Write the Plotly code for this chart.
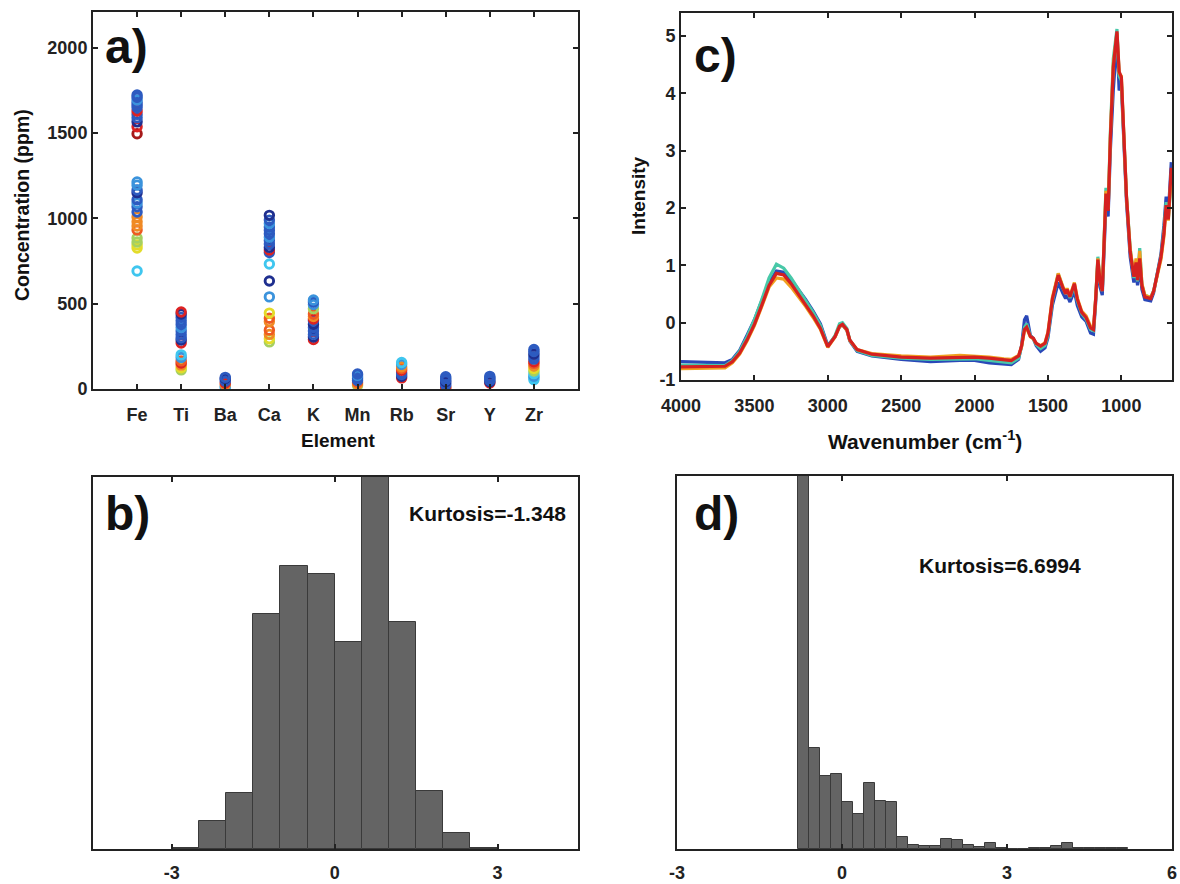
import plotly.graph_objects as go

# ---------------- data ----------------
elements = ["Fe", "Ti", "Ba", "Ca", "K", "Mn", "Rb", "Sr", "Y", "Zr"]

PAL = {"db": "#1f2f8f", "b": "#2d5bc0", "lb": "#3b93dc", "cy": "#3fc6ef", "gr": "#a6d060",
       "ye": "#e3dc2a", "or": "#f08a24", "ro": "#ee5a22", "rd": "#dd2222", "dr": "#a51a1a"}

Fe_vals = [692, 826, 845, 862, 885, 932, 955, 980, 1009, 1038, 1068, 1090, 1109, 1150, 1167, 1195, 1214,
           1496, 1537, 1566, 1590, 1610, 1630, 1650, 1665, 1680, 1695, 1710, 1724]
Fe_cols = ["cy", "ye", "ye", "gr", "gr", "ro", "or", "or", "or", "b", "b", "lb", "b", "db", "b", "lb", "lb",
           "dr", "rd", "db", "b", "b", "rd", "b", "b", "b", "lb", "b", "b"]
Ti_vals = [112, 125, 140, 152, 165, 185, 200, 270, 287, 300, 320, 340, 360, 380, 400, 420, 440, 451]
Ti_cols = ["gr", "ye", "or", "rd", "ro", "lb", "cy", "rd", "db", "b", "b", "b", "lb", "b", "b", "b", "db", "rd"]
Ba_vals = [8, 15, 25, 35, 45, 55, 62, 68]
Ba_cols = ["cy", "lb", "or", "rd", "b", "b", "db", "b"]
Ca_vals = [276, 295, 320, 345, 395, 415, 445, 540, 633, 733, 800, 815, 830, 850, 870, 890, 910, 930,
           950, 970, 990, 1018]
Ca_cols = ["gr", "ye", "or", "ro", "or", "ro", "ye", "lb", "db", "cy", "b", "rd", "db", "b", "b", "lb", "b", "b",
           "b", "lb", "b", "db"]
K_vals = [290, 305, 320, 340, 360, 380, 400, 410, 425, 440, 470, 495, 510, 522]
K_cols = ["rd", "db", "b", "b", "b", "db", "b", "rd", "or", "ro", "gr", "lb", "b", "lb"]
Mn_vals = [20, 30, 40, 50, 60, 70, 80, 88]
Mn_cols = ["gr", "or", "ro", "b", "b", "b", "lb", "b"]
Rb_vals = [65, 75, 85, 95, 110, 120, 130, 145, 155]
Rb_cols = ["rd", "db", "b", "b", "rd", "ro", "or", "lb", "cy"]
Sr_vals = [5, 12, 22, 32, 42, 52, 62, 72]
Sr_cols = ["or", "rd", "b", "b", "db", "b", "b", "b"]
Y_vals = [35, 42, 50, 58, 66, 74]
Y_cols = ["rd", "db", "b", "b", "b", "b"]
Zr_vals = [55, 65, 75, 90, 105, 120, 135, 150, 160, 175, 190, 205, 220, 232]
Zr_cols = ["cy", "cy", "lb", "cy", "gr", "ye", "or", "ro", "rd", "b", "b", "db", "b", "b"]

conc_vals = [Fe_vals, Ti_vals, Ba_vals, Ca_vals, K_vals, Mn_vals, Rb_vals, Sr_vals, Y_vals, Zr_vals]
conc_cols = [Fe_cols, Ti_cols, Ba_cols, Ca_cols, K_cols, Mn_cols, Rb_cols, Sr_cols, Y_cols, Zr_cols]

wavenumber = [4000, 3800, 3700, 3650, 3600, 3550, 3500, 3450, 3400, 3350, 3300, 3250, 3200, 3150, 3100,
              3050, 3000, 2950, 2920, 2900, 2870, 2850, 2800, 2700, 2500, 2300, 2100, 2000, 1900, 1800,
              1750, 1700, 1680, 1660, 1645, 1620, 1600, 1580, 1550, 1520, 1500, 1470, 1430, 1400, 1380,
              1370, 1350, 1320, 1300, 1270, 1240, 1210, 1190, 1175, 1160, 1145, 1130, 1105, 1090, 1075,
              1055, 1030, 1015, 1000, 985, 965, 940, 915, 900, 890, 875, 860, 840, 800, 780, 750, 730,
              710, 695, 680, 660]
spec_blue = [-0.68, -0.69, -0.70, -0.64, -0.48, -0.22, 0.05, 0.38, 0.70, 0.90, 0.88, 0.75, 0.58, 0.40, 0.20,
             -0.02, -0.40, -0.24, -0.07, -0.04, -0.13, -0.32, -0.50, -0.58, -0.64, -0.68, -0.66, -0.66, -0.70, -0.72,
             -0.73, -0.64, -0.40, 0.05, 0.12, -0.22, -0.28, -0.40, -0.50, -0.44, -0.26, 0.30, 0.70, 0.52, 0.42,
             0.48, 0.36, 0.55, 0.30, 0.10, 0.02, -0.18, -0.20, 0.35, 1.05, 0.62, 0.48, 2.05, 1.85, 3.0,
             4.05, 4.95, 4.05, 4.15, 3.30, 2.10, 1.15, 0.70, 0.92, 0.65, 1.02, 0.58, 0.40, 0.38, 0.52, 0.95, 1.20,
             1.70, 2.20, 1.90, 2.80]
spec_green = [-0.74, -0.75, -0.75, -0.66, -0.50, -0.25, 0.05, 0.40, 0.78, 1.02, 0.95, 0.78, 0.58, 0.38, 0.18,
              -0.05, -0.42, -0.22, -0.02, 0.0, -0.10, -0.30, -0.49, -0.57, -0.62, -0.64, -0.63, -0.63, -0.66, -0.69,
              -0.70, -0.62, -0.42, -0.08, -0.02, -0.23, -0.28, -0.38, -0.45, -0.40, -0.22, 0.38, 0.85, 0.62, 0.50,
              0.56, 0.43, 0.64, 0.38, 0.16, 0.06, -0.12, -0.14, 0.42, 1.15, 0.70, 0.55, 2.35, 2.0, 3.3,
              4.6, 5.12, 4.3, 4.22, 3.35, 2.2, 1.3, 0.78, 1.0, 0.72, 1.30, 0.66, 0.48, 0.44, 0.56, 0.92, 1.15,
              1.60, 2.1, 1.82, 2.5]
spec_orange = [-0.80, -0.80, -0.79, -0.70, -0.55, -0.32, -0.05, 0.28, 0.62, 0.78, 0.76, 0.62, 0.46, 0.28, 0.09,
               -0.12, -0.43, -0.25, -0.07, -0.04, -0.13, -0.31, -0.47, -0.54, -0.58, -0.60, -0.57, -0.58, -0.60, -0.63,
               -0.64, -0.57, -0.42, -0.14, -0.10, -0.25, -0.28, -0.36, -0.40, -0.35, -0.16, 0.44, 0.86, 0.64, 0.52,
               0.60, 0.47, 0.70, 0.43, 0.20, 0.12, -0.06, -0.10, 0.43, 1.12, 0.74, 0.57, 2.30, 1.98, 3.25,
               4.5, 5.05, 4.35, 4.3, 3.4, 2.2, 1.28, 0.84, 1.12, 0.78, 1.25, 0.68, 0.48, 0.44, 0.55, 0.88, 1.10,
               1.50, 2.0, 1.78, 2.6]
spec_red = [-0.77, -0.77, -0.76, -0.68, -0.53, -0.30, -0.03, 0.30, 0.65, 0.86, 0.83, 0.68, 0.50, 0.32, 0.12,
            -0.10, -0.42, -0.24, -0.06, -0.03, -0.12, -0.30, -0.47, -0.55, -0.60, -0.62, -0.60, -0.60, -0.62, -0.65,
            -0.66, -0.58, -0.41, -0.12, -0.08, -0.24, -0.27, -0.36, -0.41, -0.36, -0.18, 0.41, 0.83, 0.62, 0.50,
            0.58, 0.45, 0.68, 0.41, 0.18, 0.09, -0.09, -0.12, 0.41, 1.10, 0.72, 0.55, 2.25, 1.95, 3.2,
            4.45, 5.08, 4.38, 4.28, 3.37, 2.19, 1.24, 0.80, 1.05, 0.74, 1.12, 0.65, 0.45, 0.42, 0.55, 0.90, 1.15,
            1.55, 2.05, 1.80, 2.70]
spectra = [(spec_blue, "#2a48b8"), (spec_green, "#48c8a8"), (spec_orange, "#f0a020"), (spec_red, "#d42020")]

b_bin_left = [-3.0, -2.5, -2.0, -1.5, -1.0, -0.5, 0.0, 0.5, 1.0, 1.5, 2.0, 2.5]
b_counts = [0.4, 7.4, 15.0, 63.1, 76.0, 73.8, 55.7, 120.0, 60.9, 15.7, 4.3, 0.4]
b_width = 0.5

d_bin_left = [-0.8, -0.6, -0.4, -0.2, 0.0, 0.2, 0.4, 0.6, 0.8, 1.0, 1.2, 1.4, 1.6, 1.8, 2.0, 2.2, 2.4, 2.6,
              2.8, 3.0, 3.2, 3.4, 3.6, 3.8, 4.0, 4.2, 4.4, 4.6, 4.8, 5.0]
d_counts = [120.0, 27.0, 19.6, 20.2, 12.6, 9.5, 17.8, 12.9, 12.5, 3.3, 1.2, 0.7, 0.7, 2.8, 2.4, 1.0, 0.5, 1.5,
            0.2, 0.1, 0.1, 0.2, 0.4, 0.9, 1.6, 0.4, 0.2, 0.2, 0.4, 0.2]
d_width = 0.2

conc_ticks = [0, 500, 1000, 1500, 2000]
wn_ticks = [4000, 3500, 3000, 2500, 2000, 1500, 1000]
int_ticks = [-1, 0, 1, 2, 3, 4, 5]
b_ticks = [-3, 0, 3]
d_ticks = [-3, 0, 3, 6]

# ---------------- figure ----------------
W, H = 1180, 884
FONT = "Liberation Sans, Arial, sans-serif"
fig = go.Figure()

for name, vals, cols in zip(elements, conc_vals, conc_cols):
    fig.add_trace(go.Scatter(
        x=[name] * len(vals), y=vals, mode="markers", xaxis="x", yaxis="y",
        marker=dict(symbol="circle-open", size=8.5, color=[PAL[c] for c in cols], line=dict(width=2.9)),
        showlegend=False, hoverinfo="skip"))

for vals, col in spectra:
    fig.add_trace(go.Scatter(x=wavenumber, y=vals, mode="lines", xaxis="x2", yaxis="y2",
                             line=dict(color=col, width=3.2), showlegend=False))

fig.add_trace(go.Bar(x=[l + b_width / 2 for l in b_bin_left], y=b_counts, width=b_width,
                     xaxis="x3", yaxis="y3", marker=dict(color="#646464", line=dict(color="#3a3a3a", width=1)),
                     showlegend=False))
fig.add_trace(go.Bar(x=[l + d_width / 2 for l in d_bin_left], y=d_counts, width=d_width,
                     xaxis="x4", yaxis="y4", marker=dict(color="#646464", line=dict(color="#3a3a3a", width=1)),
                     showlegend=False))


def px_x(a, b):
    return [a / W, b / W]


def px_y(top, bottom):
    return [(H - bottom) / H, (H - top) / H]


def lbl(v):
    return [str(t) for t in v]


tickfont = dict(family=FONT, size=18, color="#222222", weight="bold")
common = dict(showline=True, linecolor="#222222", linewidth=2, mirror="ticks", ticks="inside",
              ticklen=5, tickwidth=2, tickcolor="#222222", showgrid=False, zeroline=False,
              tickfont=tickfont, automargin=False)
plain_y = dict(showline=True, linecolor="#222222", linewidth=2, mirror=True, showticklabels=False,
               ticks="", showgrid=False, zeroline=False, automargin=False)

fig.update_layout(
    template="none",
    width=W, height=H, margin=dict(l=0, r=0, t=0, b=0),
    paper_bgcolor="white", plot_bgcolor="white", bargap=0,
    xaxis=dict(domain=px_x(93, 578), anchor="y", type="category", range=[-1, 10],
               categoryorder="array", categoryarray=elements, ticklabelstandoff=8, **common),
    yaxis=dict(domain=px_y(12, 389), anchor="x", range=[0, 2210], tickvals=conc_ticks,
               ticktext=lbl(conc_ticks), **common),
    xaxis2=dict(domain=px_x(681, 1172), anchor="y2", range=[4000, 655],
                tickvals=wn_ticks, ticktext=lbl(wn_ticks), ticklabelstandoff=8, **common),
    yaxis2=dict(domain=px_y(13, 380), anchor="x2", range=[-1, 5.4], tickvals=int_ticks,
                ticktext=lbl(int_ticks), **common),
    xaxis3=dict(domain=px_x(93, 578), anchor="y3", range=[-4.45, 4.48], tickvals=b_ticks,
                ticktext=lbl(b_ticks), ticklabelstandoff=6, **common),
    yaxis3=dict(domain=px_y(477, 849), anchor="x3", range=[0, 100], **plain_y),
    xaxis4=dict(domain=px_x(677, 1172), anchor="y4", range=[-3, 6], tickvals=d_ticks,
                ticktext=lbl(d_ticks), ticklabelstandoff=6, **common),
    yaxis4=dict(domain=px_y(476, 849), anchor="x4", range=[0, 100], **plain_y),
)

ann = []


def text(x, y, s, size, weight="bold", angle=0, xanchor="center"):
    ann.append(dict(x=x / W, y=(H - y) / H, xref="paper", yref="paper", text=s, showarrow=False,
                    textangle=angle, xanchor=xanchor, yanchor="middle",
                    font=dict(family=FONT, size=size, color="#111111", weight=weight)))


text(103, 46, "a)", 48, xanchor="left")
text(103, 514, "b)", 48, xanchor="left")
text(692, 55, "c)", 48, xanchor="left")
text(692, 514, "d)", 48, xanchor="left")
text(488, 514, "Kurtosis=-1.348", 21)
text(1000, 565, "Kurtosis=6.6994", 21)
text(338, 440, "Element", 19)
text(22, 205, "Concentration (ppm)", 19.5, angle=-90)
text(638, 196, "Intensity", 19, angle=-90)
text(925, 440, "Wavenumber (cm<sup>-1</sup>)", 21)
fig.update_layout(annotations=ann)

fig.write_html("out.html")
